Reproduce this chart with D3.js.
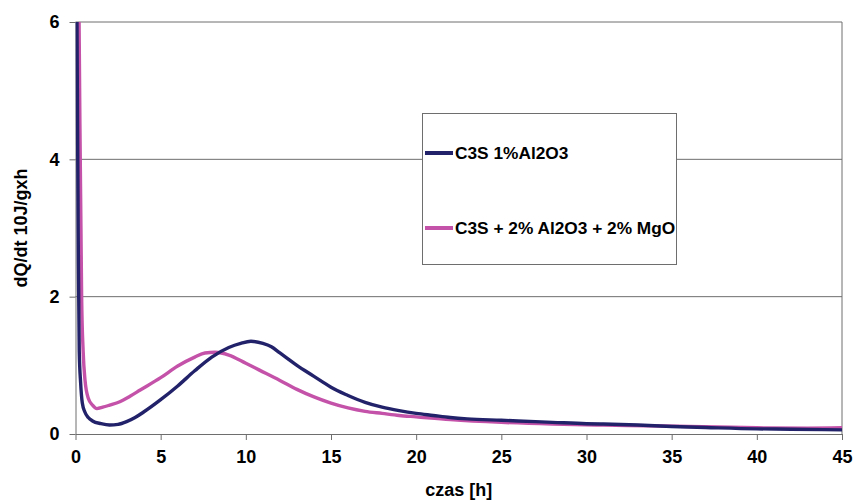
<!DOCTYPE html>
<html>
<head>
<meta charset="utf-8">
<script src="https://cdn.jsdelivr.net/npm/d3@7"></script>
<style>
  body { margin: 0; background: #fff; }
  svg text { font-family: "Liberation Sans", Arial, sans-serif; font-weight: bold; fill: #000; }
</style>
</head>
<body>
<svg id="chart" width="854" height="502"></svg>
<script>
// time [h] and dQ/dt for each series
const timeA = [0.08, 0.12, 0.17, 0.22, 0.3, 0.4, 0.55, 0.75, 1.0, 1.5, 2.0, 2.5, 3.0, 3.5, 4.0, 5.0, 6.0, 7.0, 8.0, 9.0, 9.7, 10.3, 11.0, 11.5, 12.0, 13.0, 14.0, 14.5, 15.0, 16.0, 17.0, 18.0, 19.0, 20.0, 21.0, 22.0, 23.0, 25.0, 27.0, 28.0, 30.0, 31.0, 33.0, 35.0, 37.0, 40.0, 42.0, 45.0];
const valuesA = [6.3, 4.5, 2.5, 1.2, 0.75, 0.45, 0.32, 0.24, 0.19, 0.15, 0.13, 0.14, 0.18, 0.24, 0.32, 0.5, 0.7, 0.92, 1.12, 1.26, 1.32, 1.35, 1.32, 1.27, 1.18, 1.0, 0.84, 0.76, 0.68, 0.56, 0.46, 0.39, 0.34, 0.3, 0.27, 0.24, 0.22, 0.2, 0.18, 0.17, 0.15, 0.145, 0.13, 0.11, 0.095, 0.075, 0.07, 0.06];

const timeB = [0.2, 0.26, 0.32, 0.36, 0.45, 0.56, 0.75, 1.0, 1.25, 1.6, 2.0, 2.6, 3.2, 3.8, 5.0, 6.0, 7.0, 7.6, 8.2, 9.0, 10.0, 10.8, 12.0, 13.0, 14.0, 15.0, 16.0, 17.0, 18.0, 19.0, 20.0, 22.0, 25.0, 28.0, 31.0, 33.5, 36.0, 40.0, 43.0, 45.0];
const valuesB = [6.3, 4.5, 3.0, 2.0, 1.2, 0.78, 0.52, 0.42, 0.37, 0.39, 0.42, 0.47, 0.55, 0.64, 0.82, 0.99, 1.12, 1.18, 1.19, 1.15, 1.03, 0.93, 0.78, 0.65, 0.54, 0.45, 0.38, 0.33, 0.3, 0.27, 0.25, 0.21, 0.17, 0.145, 0.13, 0.12, 0.11, 0.09, 0.085, 0.09];

const seriesNames = ['C3S 1%Al2O3', 'C3S + 2% Al2O3 + 2% MgO'];
const seriesColors = ['#22226a', '#c452a8'];
const xTicks = [0, 5, 10, 15, 20, 25, 30, 35, 40, 45];
const yTicks = [0, 2, 4, 6];

const svg = d3.select('#chart');

const x = d3.scaleLinear().domain([0, 45]).range([75.5, 842]);
const y = d3.scaleLinear().domain([0, 6]).range([434, 22]);

// gridlines
svg.append('g')
  .selectAll('line')
  .data(yTicks.filter(d => d > 0))
  .join('line')
  .attr('x1', x(0)).attr('x2', x(45))
  .attr('y1', d => y(d)).attr('y2', d => y(d))
  .attr('stroke', '#6e6e6e')
  .attr('stroke-width', 1);

// right border
svg.append('line')
  .attr('x1', x(45)).attr('x2', x(45))
  .attr('y1', y(6)).attr('y2', y(0))
  .attr('stroke', '#6e6e6e');

// axes
const xAxis = svg.append('g')
  .attr('transform', `translate(0,${y(0)})`)
  .call(d3.axisBottom(x).tickValues(xTicks).tickFormat(d3.format('d'))
    .tickSize(6).tickPadding(10).tickSizeOuter(0));
const yAxis = svg.append('g')
  .attr('transform', `translate(${x(0)},0)`)
  .call(d3.axisLeft(y).tickValues(yTicks).tickFormat(d3.format('d'))
    .tickSize(6).tickPadding(10).tickSizeOuter(0));

[xAxis, yAxis].forEach(a => {
  a.select('.domain').attr('stroke', '#6e6e6e');
  a.selectAll('.tick line').attr('stroke', '#6e6e6e');
  a.selectAll('.tick text')
    .attr('font-family', '"Liberation Sans", Arial, sans-serif')
    .attr('font-weight', 'bold')
    .attr('font-size', 18)
    .attr('fill', '#000');
});

// clip the curves to the plot area
svg.append('clipPath').attr('id', 'plotClip')
  .append('rect')
  .attr('x', x(0)).attr('y', y(6))
  .attr('width', x(45) - x(0)).attr('height', y(0) - y(6));

const line = d3.line()
  .x(d => x(d[0]))
  .y(d => y(d[1]))
  .curve(d3.curveMonotoneX);

const series = [
  d3.zip(timeA, valuesA),
  d3.zip(timeB, valuesB)
];

const plot = svg.append('g').attr('clip-path', 'url(#plotClip)');
// pink drawn first, navy on top like the reference near the tail
[1, 0].forEach(i => {
  plot.append('path')
    .datum(series[i])
    .attr('d', line)
    .attr('fill', 'none')
    .attr('stroke', seriesColors[i])
    .attr('stroke-width', 3.4)
    .attr('stroke-linejoin', 'round');
});

// legend
const legend = svg.append('g');
legend.append('rect')
  .attr('x', 422.5).attr('y', 113.5)
  .attr('width', 254).attr('height', 151)
  .attr('fill', '#fff')
  .attr('stroke', '#6e6e6e');

const legendY = [153, 228];
seriesNames.forEach((name, i) => {
  legend.append('line')
    .attr('x1', 425).attr('x2', 453)
    .attr('y1', legendY[i]).attr('y2', legendY[i])
    .attr('stroke', seriesColors[i])
    .attr('stroke-width', 4);
  legend.append('text')
    .attr('x', 455).attr('y', legendY[i])
    .attr('dy', '0.35em')
    .attr('font-size', 17.3)
    .text(name);
});

// axis titles
svg.append('text')
  .attr('x', (x(0) + x(45)) / 2).attr('y', 496)
  .attr('text-anchor', 'middle')
  .attr('font-size', 18)
  .text('czas [h]');

svg.append('text')
  .attr('transform', `translate(27,${(y(0) + y(6)) / 2}) rotate(-90)`)
  .attr('text-anchor', 'middle')
  .attr('font-size', 18)
  .text('dQ/dt 10J/gxh');
</script>
</body>
</html>
